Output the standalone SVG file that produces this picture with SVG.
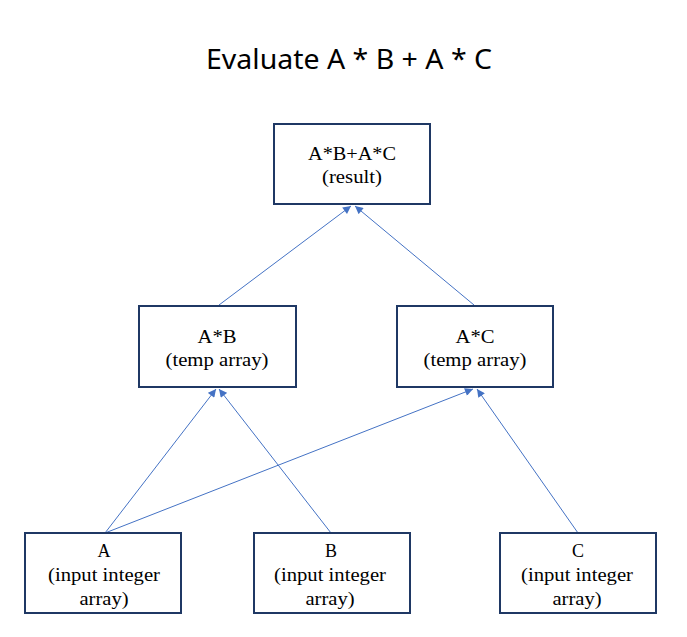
<svg xmlns="http://www.w3.org/2000/svg" width="687" height="637" viewBox="0 0 687 637">
<style>
.box{fill:#fff;stroke:#1F3864;stroke-width:2}
.lbl{font-family:"Liberation Serif","Times New Roman",serif;font-size:18px;fill:#000;text-anchor:middle}
.title{font-family:"Noto Sans","Open Sans",sans-serif;font-size:27px;fill:#000;text-anchor:middle}
.edge{stroke:#4472C4;stroke-width:1;fill:none;marker-end:url(#ah)}
</style>
<defs>
<marker id="ah" viewBox="0 0 10 10" refX="10" refY="5" markerWidth="9" markerHeight="8" markerUnits="userSpaceOnUse" orient="auto">
<path d="M0,0 L10,5 L0,10 z" fill="#4472C4"/>
</marker>
</defs>
<rect width="687" height="637" fill="#fff"/>
<text class="title" x="349" y="69" textLength="286" lengthAdjust="spacingAndGlyphs">Evaluate A * B + A * C</text>
<g id="connectors">
<line class="edge" x1="219" y1="305" x2="351" y2="206"/>
<line class="edge" x1="474" y1="305" x2="355" y2="206"/>
<line class="edge" x1="105" y1="533" x2="216" y2="389"/>
<line class="edge" x1="331" y1="533" x2="219" y2="389"/>
<line class="edge" x1="105" y1="533" x2="473" y2="389"/>
<line class="edge" x1="578" y1="533" x2="477" y2="389"/>
</g>
<g id="node-result">
<rect class="box" x="274" y="124" width="156" height="80"/>
<text class="lbl" x="352" y="160" textLength="88" lengthAdjust="spacingAndGlyphs">A*B+A*C</text>
<text class="lbl" x="352" y="183" textLength="60" lengthAdjust="spacingAndGlyphs">(result)</text>
</g>
<g id="node-ab">
<rect class="box" x="139" y="306" width="157" height="81"/>
<text class="lbl" x="217" y="343" textLength="39" lengthAdjust="spacingAndGlyphs">A*B</text>
<text class="lbl" x="217" y="366" textLength="103" lengthAdjust="spacingAndGlyphs">(temp array)</text>
</g>
<g id="node-ac">
<rect class="box" x="397" y="306" width="156" height="81"/>
<text class="lbl" x="475" y="343" textLength="39" lengthAdjust="spacingAndGlyphs">A*C</text>
<text class="lbl" x="475" y="366" textLength="103" lengthAdjust="spacingAndGlyphs">(temp array)</text>
</g>
<g id="node-a">
<rect class="box" x="25" y="533" width="156" height="80"/>
<text class="lbl" x="104" y="557">A</text>
<text class="lbl" x="104" y="581" textLength="112" lengthAdjust="spacingAndGlyphs">(input integer</text>
<text class="lbl" x="104" y="605" textLength="49" lengthAdjust="spacingAndGlyphs">array)</text>
</g>
<g id="node-b">
<rect class="box" x="254" y="533" width="156" height="80"/>
<text class="lbl" x="331" y="557">B</text>
<text class="lbl" x="330" y="581" textLength="112" lengthAdjust="spacingAndGlyphs">(input integer</text>
<text class="lbl" x="330" y="605" textLength="49" lengthAdjust="spacingAndGlyphs">array)</text>
</g>
<g id="node-c">
<rect class="box" x="500" y="533" width="156" height="80"/>
<text class="lbl" x="578" y="557">C</text>
<text class="lbl" x="577" y="581" textLength="112" lengthAdjust="spacingAndGlyphs">(input integer</text>
<text class="lbl" x="577" y="605" textLength="49" lengthAdjust="spacingAndGlyphs">array)</text>
</g>
</svg>
